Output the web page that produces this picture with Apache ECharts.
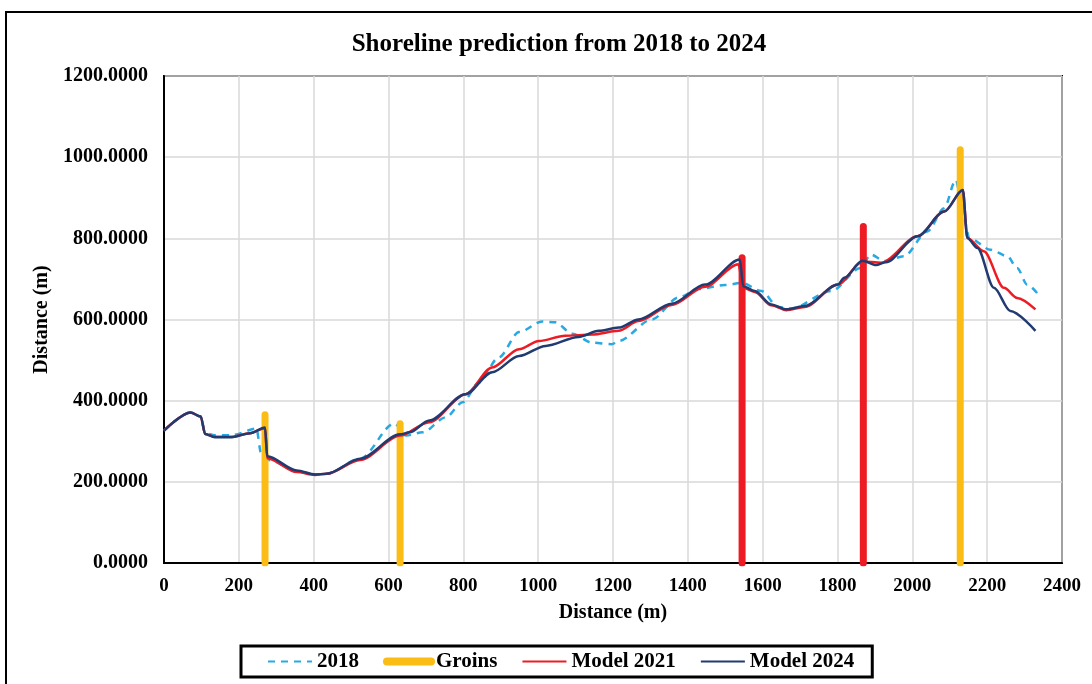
<!DOCTYPE html>
<html>
<head>
<meta charset="utf-8">
<title>Shoreline prediction from 2018 to 2024</title>
<script src="https://cdn.jsdelivr.net/npm/echarts@6/dist/echarts.min.js"></script>
<style>
  html, body { margin: 0; padding: 0; background: #fff; overflow: hidden; }
  #frame { position: absolute; left: 5px; top: 11px; width: 1100px; height: 700px; border: 2px solid #000; }
  #chart { position: absolute; left: 0; top: 0; width: 1092px; height: 684px; }
</style>
</head>
<body>
<div id="frame"></div>
<div id="chart"></div>
<script>
// Shoreline positions: [distance along shore (m), offset (m)]
const shore2018 = [
  [0, 326], [71, 371], [98, 361], [110, 320], [136, 315], [181, 315], [247, 331], [259, 273],
  [283, 253], [355, 226], [404, 218], [435, 220], [524, 257], [616, 344], [647, 314], [691, 322],
  [753, 359], [798, 396], [842, 445], [895, 507], [949, 569], [1011, 595], [1046, 593], [1091, 565],
  [1144, 543], [1197, 539], [1215, 547], [1304, 600], [1375, 654], [1428, 675], [1499, 685], [1545, 690],
  [1597, 670], [1641, 631], [1676, 627], [1783, 670], [1862, 727], [1889, 760], [1925, 744], [1978, 756],
  [2040, 817], [2085, 874], [2116, 944], [2138, 850], [2152, 801], [2209, 772], [2254, 756], [2280, 727],
  [2307, 686], [2338, 660]
]

const model2021 = [
  [0, 326], [71, 371], [98, 361], [110, 318], [136, 311], [181, 311], [230, 320], [270, 332],
  [276, 258], [355, 224], [404, 217], [435, 220], [524, 254], [631, 314], [709, 347], [806, 416],
  [877, 482], [949, 527], [1002, 547], [1072, 560], [1144, 563], [1215, 572], [1268, 596], [1357, 636],
  [1446, 681], [1535, 736], [1548, 678], [1579, 668], [1623, 635], [1663, 623], [1712, 631], [1801, 686],
  [1867, 743], [1917, 740], [2014, 805], [2085, 866], [2135, 919], [2147, 801], [2191, 768], [2245, 678],
  [2280, 653], [2329, 625]
]

const model2024 = [
  [0, 326], [71, 371], [98, 361], [110, 318], [136, 310], [181, 310], [230, 320], [270, 334],
  [276, 263], [355, 228], [404, 218], [435, 220], [524, 257], [631, 317], [656, 322], [709, 351],
  [806, 416], [877, 470], [949, 510], [1020, 535], [1108, 557], [1162, 572], [1215, 580], [1268, 600],
  [1357, 639], [1446, 686], [1539, 748], [1548, 682], [1579, 670], [1623, 637], [1663, 625], [1712, 633],
  [1801, 686], [1818, 703], [1867, 745], [1903, 734], [1929, 741], [2014, 805], [2085, 866], [2135, 919],
  [2147, 801], [2174, 776], [2218, 678], [2262, 621], [2329, 572]
]

// Groins: position, top of the structure, and whether it is drawn red
const groinX = [270, 631, 1545, 1869, 2128]
const groinTop = [365, 343, 752, 829, 1018]
const groinRed = [false, false, true, true, false]

const xTicks = { min: 0, max: 2400, interval: 200 }
const yTicks = { min: 0, max: 1200, interval: 200 }

const FONT = '"Liberation Serif", "Times New Roman", serif'
const BLUE = '#29A9E1'
const YELLOW = '#FBBC15'
const RED = '#ED1C24'
const NAVY = '#213A70'

const chart = echarts.init(document.getElementById('chart'), null, { renderer: 'canvas' })

const groinSeries = groinX.map((x, i) => ({
  name: groinRed[i] ? 'Groins (red)' : 'Groins',
  type: 'line',
  data: [[x, 0], [x, groinTop[i]]],
  symbol: 'none',
  lineStyle: { color: groinRed[i] ? RED : YELLOW, width: 7, cap: 'round' },
  itemStyle: { color: groinRed[i] ? RED : YELLOW },
}))

chart.setOption({
  animation: false,
  backgroundColor: 'transparent',
  title: {
    text: 'Shoreline prediction from 2018 to 2024',
    left: 554,
    textAlign: 'center',
    top: 27,
    textStyle: { fontFamily: FONT, fontWeight: 'bold', fontSize: 25, color: '#000' },
  },
  legend: {
    data: [
      { name: '2018' },
      { name: 'Groins', lineStyle: { width: 8, cap: 'round' } },
      { name: 'Model 2021' },
      { name: 'Model 2024' },
    ],
    left: 241,
    top: 646,
    borderColor: '#000',
    borderWidth: 3,
    padding: [5, 18, 5, 26],
    itemWidth: 44,
    itemHeight: 8,
    itemGap: 24,
    itemStyle: { opacity: 0 },
    textStyle: { fontFamily: FONT, fontWeight: 'bold', fontSize: 21, color: '#000' },
  },
  grid: { left: 164, right: 30, top: 76, bottom: 121, show: true, borderColor: '#000', borderWidth: 2 },
  xAxis: {
    type: 'value',
    min: xTicks.min,
    max: xTicks.max,
    interval: xTicks.interval,
    name: 'Distance (m)',
    nameLocation: 'middle',
    nameGap: 40,
    nameTextStyle: { fontFamily: FONT, fontWeight: 'bold', fontSize: 20, color: '#000' },
    axisLine: { lineStyle: { color: '#000', width: 2 } },
    axisTick: { show: false },
    axisLabel: {
      fontFamily: FONT, fontWeight: 'bold', fontSize: 19, color: '#000', margin: 14,
      formatter: (v) => String(v),
    },
    splitLine: { lineStyle: { color: '#d9d9d9', width: 1.5 } },
  },
  yAxis: {
    type: 'value',
    min: yTicks.min,
    max: yTicks.max,
    interval: yTicks.interval,
    name: 'Distance (m)',
    nameLocation: 'middle',
    nameGap: 112,
    nameTextStyle: { fontFamily: FONT, fontWeight: 'bold', fontSize: 20, color: '#000' },
    axisLine: { show: true, lineStyle: { color: '#000', width: 2 } },
    axisTick: { show: false },
    axisLabel: {
      fontFamily: FONT, fontWeight: 'bold', fontSize: 20, color: '#000', margin: 16,
      formatter: (v) => v.toFixed(4),
    },
    splitLine: { lineStyle: { color: '#d9d9d9', width: 1.5 } },
  },
  series: [
    {
      name: '2018',
      type: 'line',
      data: shore2018,
      symbol: 'none',
      smooth: 0.3,
      smoothMonotone: 'x',
      lineStyle: { color: BLUE, width: 2.5, type: [7, 6] },
      itemStyle: { color: BLUE },
    },
    ...groinSeries,
    {
      name: 'Model 2021',
      type: 'line',
      data: model2021,
      symbol: 'none',
      smooth: 0.3,
      smoothMonotone: 'x',
      lineStyle: { color: RED, width: 2.5 },
      itemStyle: { color: RED },
    },
    {
      name: 'Model 2024',
      type: 'line',
      data: model2024,
      symbol: 'none',
      smooth: 0.3,
      smoothMonotone: 'x',
      lineStyle: { color: NAVY, width: 2.5 },
      itemStyle: { color: NAVY },
    },
  ],
})
</script>
</body>
</html>
